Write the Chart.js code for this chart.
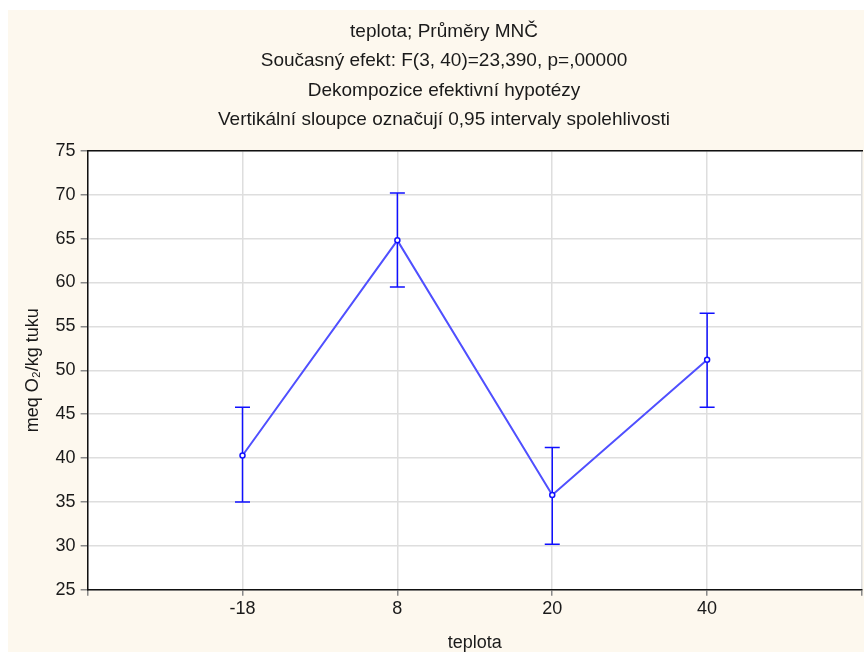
<!DOCTYPE html>
<html>
<head>
<meta charset="utf-8">
<script src="https://cdn.jsdelivr.net/npm/chart.js@4"></script>
<style>
  html, body { margin: 0; padding: 0; background: #fff; overflow: hidden; }
  #wrap { position: absolute; left: 8px; top: 10px; width: 856px; height: 642px; background: #fdf8ee; }
</style>
</head>
<body>
<div id="wrap"><canvas id="chart" width="856" height="642"></canvas></div>
<script>
// values
const categories = ['-18', '8', '20', '40'];
const means = [40.3, 64.8, 35.8, 51.2];
const lower = [35.0, 59.5, 30.2, 45.8];
const upper = [45.8, 70.2, 41.2, 56.5];
const titleLines = [
    'teplota; Průměry MNČ',
    'Současný efekt: F(3, 40)=23,390, p=,00000',
    'Dekompozice efektivní hypotézy',
    'Vertikální sloupce označují 0,95 intervaly spolehlivosti'
];

const FONT = "'Liberation Sans', Arial, sans-serif";
const TEXT = '#1a1a1a';

// white plot area on the cream page
const plotBackground = {
    id: 'plotBackground',
    beforeDraw(chart) {
        const { ctx, chartArea: a } = chart;
        ctx.save();
        ctx.fillStyle = '#ffffff';
        ctx.fillRect(a.left, a.top, a.right - a.left, a.bottom - a.top);
        ctx.restore();
    }
};

// one small dataset per category for the confidence interval
const errorSets = categories.map((c, i) => ({
    data: [{ x: i + 1, y: lower[i] }, { x: i + 1, y: upper[i] }],
    showLine: true,
    borderColor: '#1010ff',
    borderWidth: 1.5,
    pointStyle: 'line',
    pointRadius: 7.5,
    pointBorderColor: '#1010ff',
    pointBorderWidth: 1.5,
    order: 2
}));

const meanSet = {
    data: means.map((m, i) => ({ x: i + 1, y: m })),
    showLine: true,
    borderColor: '#5050ff',
    borderWidth: 2,
    pointRadius: 2.5,
    pointBackgroundColor: '#ffffff',
    pointBorderColor: '#1010ff',
    pointBorderWidth: 1.5,
    order: 1
};

new Chart(document.getElementById('chart'), {
    type: 'scatter',
    data: { datasets: [meanSet, ...errorSets] },
    plugins: [plotBackground],
    options: {
        responsive: false,
        animation: false,
        events: [],
        layout: { autoPadding: false, padding: { left: 14, right: -2, top: 0, bottom: -2 } },
        plugins: {
            legend: { display: false },
            tooltip: { enabled: false },
            title: {
                display: true,
                text: titleLines,
                color: TEXT,
                font: { family: FONT, size: 19, weight: 'normal', lineHeight: 1.55 },
                padding: { top: 7, bottom: 16 }
            }
        },
        scales: {
            x: {
                type: 'linear',
                min: 0,
                max: 5,
                afterBuildTicks: axis => {
                    axis.ticks = [0, 1, 2, 3, 4, 5].map(v => ({ value: v }));
                },
                ticks: {
                    color: TEXT,
                    font: { family: FONT, size: 18 },
                    padding: 2,
                    maxRotation: 0,
                    callback: v => categories[v - 1] ?? ''
                },
                grid: { color: '#dedede', lineWidth: 1.5, tickLength: 6, tickColor: '#888' },
                border: { color: '#111', width: 1.5 },
                title: {
                    display: true,
                    text: 'teplota',
                    color: TEXT,
                    font: { family: FONT, size: 18 },
                    padding: { top: 11, bottom: 0 }
                }
            },
            xTop: {
                type: 'linear',
                position: 'top',
                min: 0,
                max: 5,
                ticks: { display: false },
                grid: { display: false, drawTicks: false },
                border: { color: '#111', width: 1.5 }
            },
            y: {
                min: 25,
                max: 75,
                ticks: {
                    stepSize: 5,
                    color: TEXT,
                    font: { family: FONT, size: 18 },
                    padding: 5
                },
                grid: { color: '#dedede', lineWidth: 1.5, tickLength: 7, tickColor: '#888' },
                border: { color: '#111', width: 1.5 },
                title: {
                    display: true,
                    text: 'meq O₂/kg tuku',
                    color: TEXT,
                    font: { family: FONT, size: 18 },
                    padding: { top: 0, bottom: 7 }
                }
            }
        }
    }
});
</script>
</body>
</html>
